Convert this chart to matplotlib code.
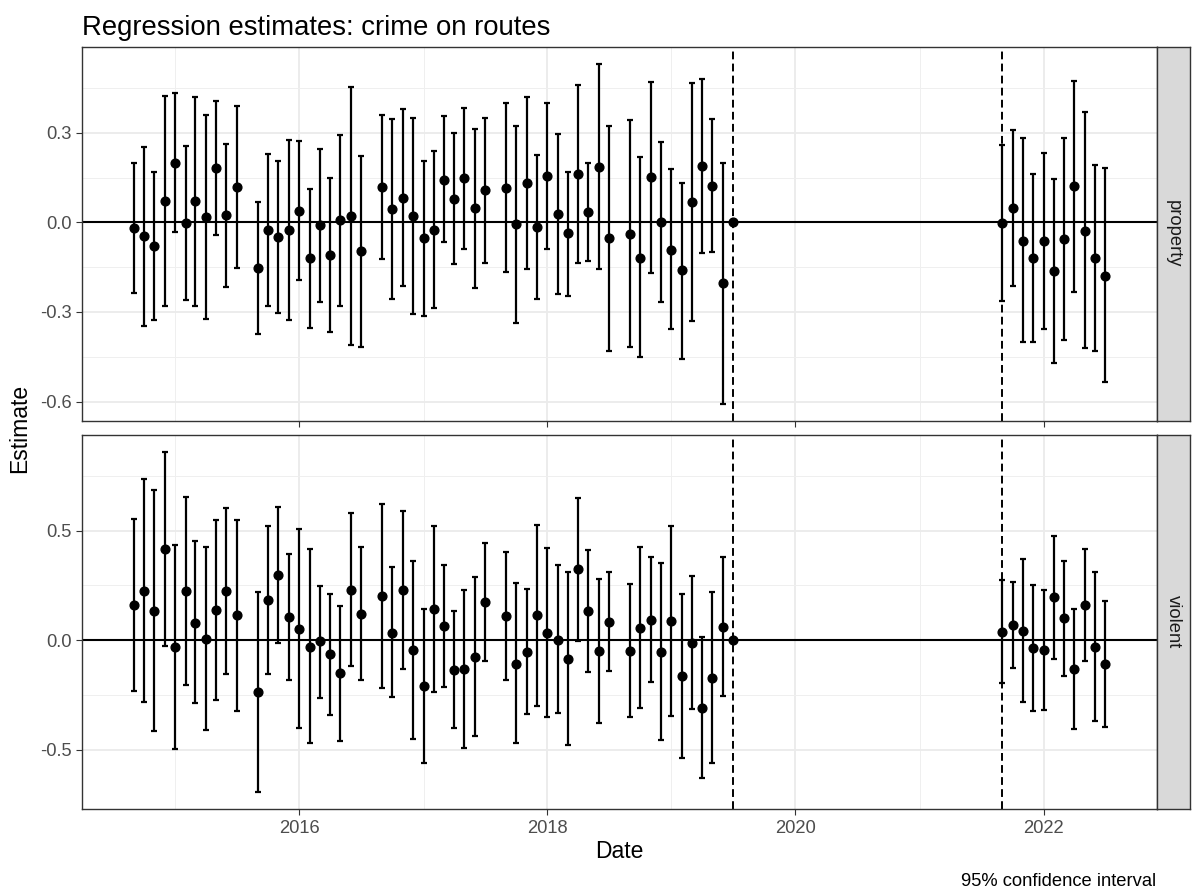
import numpy as np
import pandas as pd
import matplotlib
matplotlib.use("Agg")
import matplotlib.pyplot as plt
import matplotlib.dates as mdates
from matplotlib.ticker import FixedLocator, NullFormatter

plt.rcParams["font.family"] = ["Liberation Sans", "DejaVu Sans"]

# monthly estimates (August is never estimated; July 2019 is the reference month)
months = [
    "2014-09", "2014-10", "2014-11", "2014-12",
    "2015-01", "2015-02", "2015-03", "2015-04", "2015-05", "2015-06", "2015-07",
    "2015-09", "2015-10", "2015-11", "2015-12",
    "2016-01", "2016-02", "2016-03", "2016-04", "2016-05", "2016-06", "2016-07",
    "2016-09", "2016-10", "2016-11", "2016-12",
    "2017-01", "2017-02", "2017-03", "2017-04", "2017-05", "2017-06", "2017-07",
    "2017-09", "2017-10", "2017-11", "2017-12",
    "2018-01", "2018-02", "2018-03", "2018-04", "2018-05", "2018-06", "2018-07",
    "2018-09", "2018-10", "2018-11", "2018-12",
    "2019-01", "2019-02", "2019-03", "2019-04", "2019-05", "2019-06", "2019-07",
    "2021-09", "2021-10", "2021-11", "2021-12",
    "2022-01", "2022-02", "2022-03", "2022-04", "2022-05", "2022-06", "2022-07",
]
nan = np.nan

property_est = [
    -0.019, -0.047, -0.080, 0.072,
    0.199, -0.002, 0.070, 0.018, 0.182, 0.024, 0.118,
    -0.153, -0.027, -0.050, -0.026,
    0.039, -0.120, -0.010, -0.109, 0.009, 0.021, -0.097,
    0.119, 0.044, 0.083, 0.021,
    -0.054, -0.027, 0.143, 0.079, 0.148, 0.047, 0.107,
    0.116, -0.006, 0.132, -0.016,
    0.154, 0.028, -0.037, 0.161, 0.033, 0.184, -0.053,
    -0.038, -0.118, 0.151, 0.000,
    -0.091, -0.161, 0.068, 0.188, 0.123, -0.204, 0.000,
    -0.002, 0.049, -0.061, -0.119,
    -0.064, -0.164, -0.057, 0.120, -0.028, -0.120, -0.179,
]
property_hi = [
    0.197, 0.251, 0.167, 0.423,
    0.432, 0.256, 0.420, 0.359, 0.407, 0.262, 0.389,
    0.067, 0.228, 0.204, 0.277,
    0.272, 0.113, 0.247, 0.150, 0.294, 0.454, 0.223,
    0.359, 0.346, 0.380, 0.349,
    0.207, 0.238, 0.356, 0.298, 0.382, 0.314, 0.350,
    0.401, 0.324, 0.420, 0.224,
    0.398, 0.297, 0.170, 0.460, 0.197, 0.530, 0.321,
    0.341, 0.218, 0.469, 0.270,
    0.179, 0.133, 0.467, 0.479, 0.346, 0.198, nan,
    0.259, 0.308, 0.281, 0.163,
    0.231, 0.144, 0.282, 0.474, 0.369, 0.193, 0.181,
]
property_lo = [
    -0.236, -0.346, -0.326, -0.279,
    -0.031, -0.261, -0.281, -0.322, -0.043, -0.216, -0.153,
    -0.373, -0.281, -0.304, -0.327,
    -0.193, -0.352, -0.266, -0.368, -0.279, -0.412, -0.416,
    -0.122, -0.258, -0.213, -0.306,
    -0.312, -0.288, -0.066, -0.140, -0.088, -0.219, -0.136,
    -0.167, -0.336, -0.156, -0.257,
    -0.088, -0.241, -0.246, -0.136, -0.128, -0.157, -0.429,
    -0.416, -0.452, -0.168, -0.268,
    -0.358, -0.456, -0.331, -0.102, -0.098, -0.608, nan,
    -0.264, -0.212, -0.402, -0.399,
    -0.358, -0.472, -0.394, -0.232, -0.421, -0.432, -0.534,
]

violent_est = [
    0.161, 0.226, 0.135, 0.416,
    -0.032, 0.225, 0.080, 0.006, 0.137, 0.225, 0.114,
    -0.235, 0.185, 0.298, 0.106,
    0.053, -0.029, -0.006, -0.065, -0.152, 0.229, 0.120,
    0.202, 0.035, 0.229, -0.043,
    -0.211, 0.144, 0.065, -0.135, -0.134, -0.077, 0.175,
    0.109, -0.108, -0.052, 0.115,
    0.035, 0.000, -0.084, 0.325, 0.131, -0.050, 0.084,
    -0.049, 0.056, 0.094, -0.052,
    0.088, -0.164, -0.012, -0.310, -0.172, 0.059, 0.000,
    0.038, 0.070, 0.043, -0.035,
    -0.046, 0.197, 0.100, -0.131, 0.161, -0.030, -0.109,
]
violent_hi = [
    0.556, 0.737, 0.688, 0.860,
    0.436, 0.655, 0.451, 0.424, 0.547, 0.604, 0.551,
    0.222, 0.522, 0.609, 0.392,
    0.509, 0.415, 0.248, 0.211, 0.156, 0.580, 0.425,
    0.624, 0.333, 0.592, 0.364,
    0.143, 0.521, 0.345, 0.132, 0.228, 0.287, 0.445,
    0.402, 0.260, 0.235, 0.527,
    0.419, 0.343, 0.311, 0.650, 0.410, 0.279, 0.310,
    0.255, 0.425, 0.381, 0.352,
    0.521, 0.213, 0.292, 0.014, 0.222, 0.380, nan,
    0.273, 0.267, 0.371, 0.252,
    0.229, 0.477, 0.364, 0.144, 0.416, 0.311, 0.178,
]
violent_lo = [
    -0.234, -0.281, -0.416, -0.026,
    -0.497, -0.203, -0.289, -0.410, -0.275, -0.156, -0.325,
    -0.694, -0.155, -0.015, -0.181,
    -0.402, -0.468, -0.264, -0.340, -0.459, -0.118, -0.184,
    -0.220, -0.260, -0.131, -0.450,
    -0.563, -0.235, -0.216, -0.402, -0.494, -0.439, -0.094,
    -0.182, -0.472, -0.339, -0.299,
    -0.349, -0.334, -0.477, -0.003, -0.147, -0.377, -0.143,
    -0.351, -0.310, -0.193, -0.456,
    -0.346, -0.539, -0.314, -0.632, -0.562, -0.257, nan,
    -0.196, -0.129, -0.282, -0.322,
    -0.319, -0.085, -0.164, -0.404, -0.093, -0.371, -0.395,
]

event_dates = ["2019-07-01", "2021-09-01"]
major_years = ["2016", "2018", "2020", "2022"]
minor_years = ["2015", "2017", "2019", "2021"]

panels = [
    ("property", property_est, property_lo, property_hi,
     [-0.6, -0.3, 0.0, 0.3], [-0.45, -0.15, 0.15, 0.45]),
    ("violent", violent_est, violent_lo, violent_hi,
     [-0.5, 0.0, 0.5], [-0.25, 0.25, 0.75]),
]

W, H = 1192, 892
fig = plt.figure(figsize=(W / 100, H / 100), dpi=100)
fig.patch.set_facecolor("white")

x = mdates.date2num(pd.to_datetime(months))
ev = mdates.date2num(pd.to_datetime(event_dates))
xmaj = mdates.date2num(pd.to_datetime(major_years))
xmin_ = mdates.date2num(pd.to_datetime(minor_years))
span = x.max() - x.min() + 17
xlim = (x.min() - 8.5 - 0.05 * span, x.max() + 8.5 + 0.05 * span)

grey20 = "#333333"
L, R = 82, 1157
boxes = [(47, 421), (435, 809)]

for (name, est, lo, hi, majors, minors), (top, bot) in zip(panels, boxes):
    est, lo, hi = map(np.asarray, (est, lo, hi))
    ax = fig.add_axes([L / W, 1 - bot / H, (R - L) / W, (bot - top) / H])
    vals = np.concatenate([est, lo[~np.isnan(lo)], hi[~np.isnan(hi)]])
    ylo, yhi = vals.min(), vals.max()
    pad = 0.05 * (yhi - ylo)
    ax.set_ylim(ylo - pad, yhi + pad)
    ax.set_xlim(*xlim)

    ax.yaxis.set_major_locator(FixedLocator(majors))
    ax.yaxis.set_minor_locator(FixedLocator(minors))
    ax.set_yticklabels([f"{v:.1f}" for v in majors])
    ax.xaxis.set_major_locator(FixedLocator(xmaj))
    ax.xaxis.set_minor_locator(FixedLocator(xmin_))
    ax.xaxis.set_minor_formatter(NullFormatter())
    if name == "violent":
        ax.set_xticklabels(major_years)
    else:
        ax.set_xticklabels([])

    ax.grid(which="major", color="#EBEBEB", lw=1.3, zorder=0)
    ax.grid(which="minor", color="#EFEFEF", lw=0.7, zorder=0)
    ax.set_axisbelow(True)
    ax.tick_params(which="major", length=4.2, width=0.8, color=grey20,
                   labelsize=13.2, labelcolor="#4D4D4D", pad=3.5)
    ax.tick_params(which="minor", length=0)
    for s in ax.spines.values():
        s.set_color(grey20)
        s.set_linewidth(1.0)

    ax.axhline(0, color="black", lw=1.5, zorder=2)
    for d in ev:
        ax.axvline(d, color="black", lw=1.4, dashes=(4, 2.2), zorder=2)

    ax.errorbar(x, est, yerr=[est - lo, hi - est], fmt="o", color="black",
                ms=6.3, elinewidth=1.6, capsize=2.5, capthick=1.6, zorder=3)

    # facet strip on the right
    sax = fig.add_axes([R / W, 1 - bot / H, 33 / W, (bot - top) / H])
    sax.set_facecolor("#D9D9D9")
    sax.set_xticks([])
    sax.set_yticks([])
    for s in sax.spines.values():
        s.set_color(grey20)
        s.set_linewidth(1.0)
    sax.text(0.5, 0.5, name, rotation=-90, ha="center", va="center",
             fontsize=13.2, color="#1A1A1A", transform=sax.transAxes)

fig.text(L / W, 1 - 35 / H, "Regression estimates: crime on routes",
         fontsize=19.8, ha="left", va="baseline", color="black")
fig.text(20 / W, 1 - 428 / H, "Estimate", rotation=90, fontsize=16.5,
         ha="center", va="center")
fig.text((L + R) / 2 / W, 1 - 852 / H, "Date", fontsize=16.5,
         ha="center", va="center")
fig.text(1156 / W, 1 - 882 / H, "95% confidence interval", fontsize=13.2,
         ha="right", va="center")

fig.savefig("out.png", dpi=100, facecolor="white")
